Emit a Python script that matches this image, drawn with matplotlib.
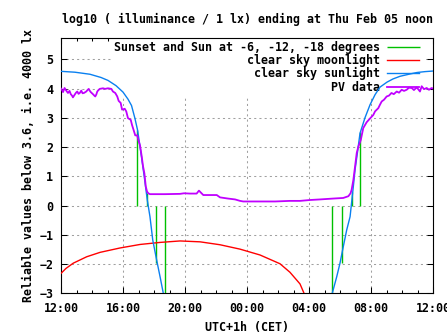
import matplotlib
matplotlib.use("Agg")
import matplotlib.pyplot as plt
import numpy as np

# ---- data (hours since 12:00 on the previous day) ----
sun_h = [0.00, 0.90, 1.87, 2.58, 3.03, 3.55, 4.00, 4.32, 4.55, 4.77, 4.94, 5.10,
         5.37, 5.57, 5.74, 5.92, 6.17, 6.39, 6.60, 6.77,
         17.35, 17.50, 17.79, 18.00, 18.21, 18.43, 18.65, 18.86, 18.97, 19.12,
         19.29, 19.61, 19.94, 20.26, 20.58, 21.03, 21.42, 21.87, 22.52, 22.97,
         23.48, 24.00]
sun_v = [4.59, 4.56, 4.49, 4.38, 4.28, 4.10, 3.88, 3.64, 3.42, 2.98, 2.58, 2.01,
         0.99, 0.18, -0.38, -1.18, -1.86, -2.43, -3.00, -3.45,
         -3.45, -3.00, -2.43, -1.97, -1.41, -0.84, -0.38, 0.65, 1.22, 1.79,
         2.47, 3.00, 3.45, 3.79, 4.05, 4.22, 4.33, 4.42, 4.50, 4.55,
         4.58, 4.60]

moon_h = [0.00, 0.32, 0.79, 1.66, 2.52, 3.81, 5.10, 6.39, 7.68, 8.97, 10.26,
          11.55, 12.84, 14.13, 14.77, 15.21, 15.42, 15.68, 15.81]
moon_v = [-2.32, -2.15, -1.97, -1.75, -1.60, -1.45, -1.33, -1.26, -1.21, -1.24,
          -1.34, -1.49, -1.69, -1.99, -2.28, -2.55, -2.68, -3.00, -3.20]

event_h = [4.92, 5.53, 6.16, 6.73, 17.50, 18.15, 18.79, 19.31]
event_v = [2.58, 0.42, -1.95, -4.0, -4.0, -1.95, 0.47, 2.52]

pv_h = [0.00, 0.06, 0.13, 0.23, 0.34, 0.45, 0.55, 0.63, 0.71, 0.77, 0.88, 0.97,
        1.05, 1.13, 1.21, 1.31, 1.39, 1.48, 1.63, 1.71, 1.79, 1.85, 1.92, 2.00,
        2.06, 2.15, 2.21, 2.28, 2.34, 2.42, 2.50, 2.71, 2.84, 3.03, 3.25, 3.35,
        3.50, 3.63, 3.72, 3.85, 3.94, 4.11, 4.21, 4.32, 4.50, 4.58, 4.71, 4.79,
        4.92, 4.99, 5.10, 5.21, 5.29, 5.38, 5.47, 5.55, 5.63, 5.74, 6.71, 7.68,
        7.94, 8.32, 8.75, 8.90, 9.03, 9.18, 10.05, 10.26, 10.77, 11.23, 11.55,
        11.76, 12.52, 13.81, 14.77, 15.42, 16.06, 16.71, 17.57, 18.21, 18.54,
        18.68, 18.75, 18.86, 18.97, 19.08, 19.18, 19.34, 19.50, 19.72, 19.94,
        20.15, 20.26, 20.47, 20.58, 20.69, 20.84, 21.01, 21.16, 21.32, 21.47,
        21.66, 21.81, 21.98, 22.13, 22.30, 22.45, 22.63, 22.77, 22.95, 23.06,
        23.16, 23.27, 23.42, 23.59, 23.74, 23.91, 24.00]
pv_v = [4.00, 3.96, 3.88, 4.02, 3.93, 3.85, 3.92, 3.81, 3.76, 3.70, 3.79, 3.86,
        3.90, 3.82, 3.85, 3.93, 3.84, 3.85, 3.90, 3.95, 3.99, 3.93, 3.88, 3.84,
        3.81, 3.76, 3.73, 3.80, 3.90, 3.95, 3.99, 4.01, 3.99, 4.01, 3.99, 3.90,
        3.85, 3.73, 3.58, 3.51, 3.28, 3.31, 3.22, 2.99, 2.93, 2.76, 2.54, 2.40,
        2.40, 2.24, 2.05, 1.67, 1.35, 1.10, 0.65, 0.48, 0.42, 0.39, 0.39, 0.40,
        0.42, 0.41, 0.41, 0.51, 0.44, 0.36, 0.36, 0.28, 0.24, 0.21, 0.16,
        0.14, 0.14, 0.14, 0.16, 0.16, 0.19, 0.21, 0.24, 0.26, 0.32,
        0.42, 0.54, 0.87, 1.33, 1.80, 2.01, 2.24, 2.65, 2.85, 2.98,
        3.10, 3.22, 3.33, 3.45, 3.56, 3.62, 3.73, 3.76, 3.85, 3.81,
        3.90, 3.86, 3.96, 3.92, 3.96, 4.03, 4.02, 3.95, 4.04, 3.97,
        3.90, 4.08, 3.98, 4.02, 3.96, 4.02, 4.00]

xtick_pos = [0, 4, 8, 12, 16, 20, 24]
xtick_labels = ["12:00", "16:00", "20:00", "00:00", "04:00", "08:00", "12:00"]
ytick_pos = [-3, -2, -1, 0, 1, 2, 3, 4, 5]

title = "log10 ( illuminance / 1 lx) ending at Thu Feb 05 noon"
ylabel = "Reliable values below 3.6, i.e. 4000 lx"
xlabel = "UTC+1h (CET)"

# ---- figure ----
FONT = {"family": "DejaVu Sans Mono", "weight": "bold", "size": 8.4}
plt.rcParams["font.family"] = "DejaVu Sans Mono"
plt.rcParams["font.weight"] = "bold"
plt.rcParams["font.size"] = 8.4

fig = plt.figure(figsize=(4.47, 3.35), dpi=100)
ax = fig.add_axes([61 / 447, (335 - 293.3) / 335, 372 / 447, (293.3 - 37.7) / 335])

GREEN, RED, BLUE, PURPLE = "#00c000", "#ff0000", "#0a80f0", "#c000ff"

ax.vlines(event_h, 0, event_v, color=GREEN, lw=1.0, zorder=2,
          label="Sunset and Sun at -6, -12, -18 degrees")
ax.plot(moon_h, moon_v, color=RED, lw=1.0, zorder=3, label="clear sky moonlight")
ax.plot(sun_h, sun_v, color=BLUE, lw=1.0, zorder=4, label="clear sky sunlight")
ax.plot(pv_h, pv_v, color=PURPLE, lw=1.3, zorder=5, label="PV data")

ax.set_xlim(0, 24)
ax.set_ylim(-3, 5.74)
ax.set_xticks(xtick_pos)
ax.set_xticklabels(xtick_labels)
ax.set_xticks(np.arange(0, 25, 1), minor=True)
ax.set_yticks(ytick_pos)

ax.tick_params(which="both", direction="in", top=True, right=True, width=0.75,
               colors="black")
ax.tick_params(which="major", length=4)
ax.tick_params(which="minor", length=2.2)
ax.tick_params(axis="y", which="minor", left=False, right=False)
ax.tick_params(axis="y", pad=5.5, labelsize=8.4)
ax.tick_params(axis="x", pad=6.5, labelsize=8.4)

ax.set_axisbelow(True)
ax.grid(True, which="major", color="#a0a0a0", lw=0.75, linestyle=(0, (2, 3)))
for s in ax.spines.values():
    s.set_linewidth(0.8)

ax.set_title(title, pad=10.8, fontsize=8.4, fontweight="bold")
ax.set_xlabel(xlabel, fontsize=8.4, fontweight="bold")
ax.xaxis.set_label_coords(0.5, -0.108)
ax.set_ylabel(ylabel, fontsize=8.4, fontweight="bold")
ax.yaxis.set_label_coords(-0.070, 0.5)

leg = ax.legend(loc="upper right", bbox_to_anchor=(1 - 10 / 372, 1 + 0.5 / 255),
                markerfirst=False, frameon=True, facecolor="white",
                edgecolor="none", framealpha=1.0, fancybox=False,
                handlelength=2.75, handletextpad=0.6, labelspacing=0.02,
                borderpad=0.3, borderaxespad=0.0, prop=FONT)
leg.set_zorder(1.5)

fig.savefig("out.png", dpi=100)
